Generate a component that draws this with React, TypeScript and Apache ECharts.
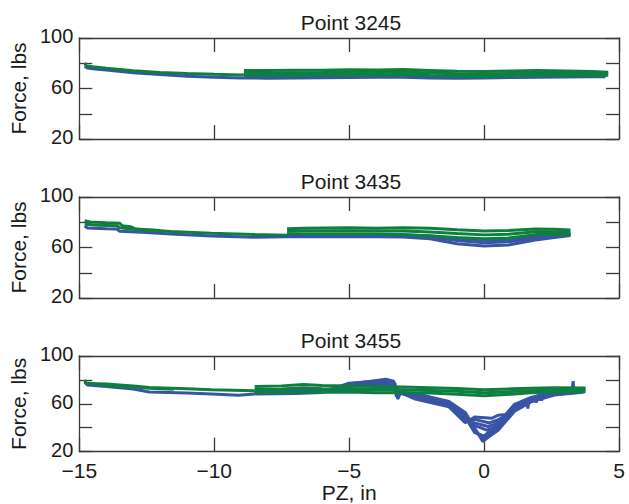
import React, { useEffect, useRef } from "react";
import * as echarts from "echarts";

// ---------- data ----------
const titles = ["Point 3245", "Point 3435", "Point 3455"];
const yLabelValues = [20, 60, 100];
const xRange = [-15, 5];
const yRange = [20, 100];

// Panel 1 : Point 3245
const p1Blue1 = [[-14.8,77.5],[-14.7,76.2],[-14.5,75.7],[-14,74.6],[-13,72.5],[-12,71],[-11,69.8],[-10,68.9],[-9,68.4],[-8,68.2],[-7,68.3],[-6,68.6],[-5,68.8],[-4,68.9],[-3,69],[-2,68.4],[-1,68.2],[0,68.4],[1,68.8],[2,69],[3,69.2],[4,69.3],[4.5,69.4]];
const p1Blue2 = [[-8.9,69.5],[-8,69.6],[-7,69.8],[-6,70],[-5,70.2],[-4,70.3],[-3,70.4],[-2,69.8],[-1,69.5],[0,69.6],[1,70],[2,70.3],[3,70.4],[4,70.3],[4.5,70.2]];
const p1Green0 = [[-14.8,80.4],[-14.75,78],[-14.5,77.3],[-14,76],[-13,74.1],[-12,72.7],[-11,71.8],[-10,71.2],[-9,70.7],[-8.9,70.8]];
const p1GreenA = [[-8.9,74.2],[-8,74.3],[-7,74.5],[-6,74.4],[-5,74.8],[-4,74.6],[-3,75],[-2,74.3],[-1,73.6],[0,73.5],[1,73.8],[2,74.3],[3,73.9],[4,73.4],[4.6,72.8]];
const p1GreenB = [[-8.9,72.3],[-8,72.1],[-7,72.4],[-6,72.6],[-5,72.9],[-4,72.7],[-3,73],[-2,72.2],[-1,71.6],[0,71.5],[1,71.9],[2,72.4],[3,72.2],[4,71.9],[4.6,71.6]];
const p1GreenC = [[-8.9,70.4],[-8,70.2],[-7,70.3],[-6,70.6],[-5,70.8],[-4,70.7],[-3,71],[-2,70.3],[-1,69.8],[0,69.6],[1,70],[2,70.5],[3,70.4],[4,70.3],[4.6,70.5]];

// Panel 2 : Point 3435
const p2Blue1 = [[-14.8,77],[-14.7,75.5],[-14,74.8],[-13.6,74.6],[-13.5,72.8],[-12.5,71.8],[-11.6,70.7],[-10.1,69.1],[-8.5,68.1],[-7.3,68.6],[-6,68.6],[-5,68.7],[-4,68.6],[-3,68.3],[-2,67],[-1,63],[0,61.2],[0.9,62],[1.9,66],[2.6,68],[3.2,69.5]];
const p2Blue2 = [[-7.3,69.8],[-6,69.9],[-5,70],[-4,69.8],[-3,69.5],[-2,68.6],[-1,65.5],[0,63.8],[0.9,64.5],[1.9,67.5],[2.6,69.2],[3.2,70.2]];
const p2Blue3 = [[-3,70],[-2,69.4],[-1,67.2],[0,65.8],[0.9,66.3],[1.9,68.8],[2.6,70],[3.2,70.6]];
const p2Green0 = [[-14.8,81.2],[-14.6,80.2],[-14,79.6],[-13.5,79.2],[-13.4,77.2],[-13.1,76.5],[-12.9,74.6],[-11.6,72.6],[-10.1,71.3],[-8.5,70.3],[-7.3,69.7]];
const p2Green1 = [[-14.8,78.5],[-14.3,77.6],[-13.6,77.2],[-13.5,75.6],[-13,74.4],[-12,73.4]];
const p2GreenA = [[-7.3,74.8],[-6.7,75.2],[-5,75.6],[-4,75.3],[-3,75.6],[-2,75.2],[-1,74],[0,73.1],[0.9,73.4],[1.9,74.6],[2.6,74.4],[3.2,73.8]];
const p2GreenB = [[-7.3,72.8],[-6.7,73],[-5,73.2],[-4,73],[-3,73.1],[-2,72.2],[-1,71],[0,70],[0.9,70.5],[1.9,72.4],[2.6,72.4],[3.2,72.2]];
const p2GreenC = [[-7.3,70.8],[-6.7,70.7],[-5,70.7],[-4,70.6],[-3,70.2],[-2,69.1],[-1,67.9],[0,67],[0.9,67.6],[1.9,70.2],[2.6,70.6],[3.2,70.5]];

// Panel 3 : Point 3455
const p3Blue0 = [[-14.8,78.3],[-14.7,75.7],[-14,74.4],[-13.6,73.6],[-13,72.4],[-12.4,69.9],[-11,69],[-10.1,68.3],[-9.1,67.2],[-8.5,68.3]];
const p3Blue1 = [[-8.5,68.3],[-7,68.6],[-6,69.4],[-5.5,73],[-5,76.8],[-4.2,78.9],[-3.64,80.5],[-3.35,79],[-3.25,66],[-3.15,69.5],[-2.55,68.6],[-1.3,62],[-0.7,52.8],[-0.35,40],[-0.05,28.5],[0.15,32],[0.52,37.8],[1.13,53.8],[1.74,61.6],[2.6,67.4],[3.57,69.4],[3.7,70]];
const p3Blue2 = [[-8.5,69.5],[-7,69.8],[-6,70.3],[-5.5,73.5],[-5,77.3],[-4.2,78.4],[-3.64,79.3],[-3.3,77],[-3.2,64],[-3.1,69],[-2.55,67.2],[-1.3,60.8],[-0.7,49],[-0.35,36],[0,33],[0.25,38],[0.52,42],[1.13,56],[1.6,61],[1.62,56],[1.66,62],[1.74,62.8],[1.9,64],[1.93,61],[1.96,64.5],[2.1,65.5],[2.13,62.6],[2.16,66],[2.6,68.2],[3.25,69.8],[3.3,78.9],[3.34,70.3],[3.57,70.4],[3.7,70.8]];
const p3Blue3 = [[-8.5,70.5],[-7,70.8],[-6,71.2],[-5.5,72],[-5,74.5],[-4.2,76],[-3.64,76.5],[-3.35,73],[-2.55,66],[-1.3,59.8],[-0.7,47],[-0.35,42],[0.1,38],[0.35,40],[0.6,45],[1.13,57.5],[1.74,63.6],[2.6,69],[3.57,71.2],[3.7,71.5]];
const p3Blue4 = [[-8.5,70],[-7,70.4],[-6,71],[-5,71.5],[-4,71.8],[-3.35,71.5],[-2.55,65],[-1.3,58.6],[-0.7,45.5],[-0.35,47],[0.2,44],[0.45,46],[0.8,50],[1.13,58.8],[1.74,64.6],[2.6,69.8],[3.57,72],[3.7,72.3]];
const p3Blue5 = [[-8.5,71],[-7,71.4],[-6,71.8],[-5,72.2],[-4,72.4],[-3.35,72],[-2.55,64],[-1.3,57.4],[-0.7,44.2],[-0.35,49],[0.3,48],[0.52,50.4],[0.8,51],[1.13,59.6],[1.74,65.4],[2.6,70.3],[3.57,72.4],[3.7,72.6]];
const p3Blue6 = [[-3.1,69.5],[-2.55,68],[-1.3,61.4],[-0.7,51],[-0.35,38],[-0.02,30.5],[0.2,35],[0.52,40],[1.13,55],[1.74,62.2],[2.6,67.8],[3.57,69.9],[3.7,70.4]];
const p3Blue7 = [[-3.3,70],[-2.55,65.5],[-1.3,59.2],[-0.7,46.2],[-0.35,44],[0.15,41],[0.4,43],[0.7,47.5],[1.13,58.2],[1.74,64.1],[2.6,69.4],[3.57,71.6],[3.7,71.9]];
const p3Blue8 = [[-5.5,72.5],[-5,75.5],[-4.2,77.4],[-3.64,77.8],[-3.4,75.5],[-3.3,72]];
const p3Green0 = [[-14.8,80.2],[-14.75,77],[-14,76.5],[-13,75],[-12.4,73.6],[-11,72.5],[-10.1,71.7],[-8.5,71]];
const p3Green1 = [[-14.7,77.5],[-14,75.2],[-13,74.2],[-12.4,73],[-11.5,72.2]];
const p3GreenA = [[-8.5,74.4],[-7.5,75],[-6.7,76.2],[-6,75.4],[-5,74.8],[-4,74.4],[-3,74],[-2,73.5],[-1,72.8],[0,71.7],[1,72.5],[1.74,73],[2.6,73.4],[3.76,73.2]];
const p3GreenB = [[-8.5,72],[-7.5,72.4],[-6.7,73.4],[-6,72.6],[-5,72.4],[-4,72],[-3,71.8],[-2,71.2],[-1,70.4],[0,69.2],[1,70.2],[1.74,71],[2.6,71.6],[3.76,71.5]];
const p3GreenC = [[-8.5,69.3],[-7.5,69.4],[-6.7,69.6],[-6,69.6],[-5,69.8],[-4,69.3],[-3,69.2],[-2,69],[-1,68],[0,66.8],[1,68],[1.74,69.3],[2.6,69.8],[3.76,70]];

const panels = [
  { blue: [p1Blue1, p1Blue2], green: [p1Green0, p1GreenA, p1GreenB, p1GreenC] },
  { blue: [p2Blue1, p2Blue2, p2Blue3], green: [p2Green0, p2Green1, p2GreenA, p2GreenB, p2GreenC] },
  { blue: [p3Blue0, p3Blue1, p3Blue2, p3Blue3, p3Blue4, p3Blue5, p3Blue6, p3Blue7, p3Blue8], green: [p3Green0, p3Green1, p3GreenA, p3GreenB, p3GreenC] },
];

// ---------- style ----------
const BLUE = "#3a54a5";
const GREEN = "#0d8040";
const AXIS = "#3a3a3a";
const TEXT = "#1a1a1a";
const FONT = "'Liberation Sans', Arial, Helvetica, sans-serif";
const gridTops = [38, 197, 356];
const gridLeft = 73;
const gridWidth = 546;
const gridHeight = 101;

export default function App() {
  const ref = useRef<HTMLDivElement>(null);
  useEffect(() => {
    if (!ref.current) return;
    const chart = echarts.init(ref.current, undefined, { renderer: "svg" });
    const grid: any[] = [];
    const xAxis: any[] = [];
    const yAxis: any[] = [];
    const series: any[] = [];
    const title: any[] = [];
    const line = { show: true, onZero: false, lineStyle: { color: AXIS, width: 1.3 } };
    const tick = (len: number) => ({ show: true, inside: true, length: len, lineStyle: { color: AXIS, width: 1.3 } });
    panels.forEach((p, i) => {
      grid.push({ left: gridLeft, top: gridTops[i], width: gridWidth, height: gridHeight });
      title.push({
        text: titles[i], left: gridLeft + gridWidth / 2, top: gridTops[i] - 31, textAlign: "center",
        textStyle: { fontFamily: FONT, fontSize: 21, fontWeight: "normal", color: TEXT },
      });
      const last = i === panels.length - 1;
      xAxis.push({
        type: "value", gridIndex: i, position: "bottom", min: xRange[0], max: xRange[1], interval: 5,
        axisLine: line, splitLine: { show: false }, axisTick: tick(14),
        axisLabel: {
          show: last, margin: 11, fontFamily: FONT, fontSize: 21, lineHeight: 16, color: TEXT,
          formatter: (v: number) => String(v).replace("-", "\u2212"),
        },
        name: last ? "PZ, in" : "", nameLocation: "middle", nameGap: 26,
        nameTextStyle: { fontFamily: FONT, fontSize: 21, lineHeight: 18, color: TEXT },
      });
      xAxis.push({
        type: "value", gridIndex: i, position: "top", min: xRange[0], max: xRange[1], interval: 5,
        axisLine: line, splitLine: { show: false }, axisTick: tick(14),
        axisLabel: { show: false },
      });
      yAxis.push({
        type: "value", gridIndex: i, position: "left", min: yRange[0], max: yRange[1], interval: 20,
        axisLine: line, splitLine: { show: false }, axisTick: tick(13),
        axisLabel: {
          margin: 6, fontFamily: FONT, fontSize: 20, lineHeight: 14, color: TEXT,
          formatter: (v: number) => (yLabelValues.includes(v) ? "{a|" + v + "}" : ""),
          rich: { a: { fontFamily: FONT, fontSize: 20, lineHeight: 14, color: TEXT, padding: [0, 0, 4, 0] } },
        },
        name: "Force, lbs", nameLocation: "middle", nameGap: 48,
        nameTextStyle: { fontFamily: FONT, fontSize: 21, color: TEXT },
      });
      yAxis.push({
        type: "value", gridIndex: i, position: "right", min: yRange[0], max: yRange[1], interval: 20,
        axisLine: line, splitLine: { show: false }, axisTick: tick(13),
        axisLabel: { show: false },
      });
      const mk = (data: number[][], color: string) => ({
        type: "line", xAxisIndex: i * 2, yAxisIndex: i * 2, data, showSymbol: false, symbol: "none",
        lineStyle: { color, width: 3 }, silent: true,
      });
      p.blue.forEach((d) => series.push(mk(d, BLUE)));
      p.green.forEach((d) => series.push(mk(d, GREEN)));
    });
    chart.setOption({ animation: false, backgroundColor: "#ffffff", title, grid, xAxis, yAxis, series });
    return () => chart.dispose();
  }, []);
  return <div ref={ref} style={{ position: "fixed", left: 0, top: 0, width: 629, height: 504 }} />;
}
